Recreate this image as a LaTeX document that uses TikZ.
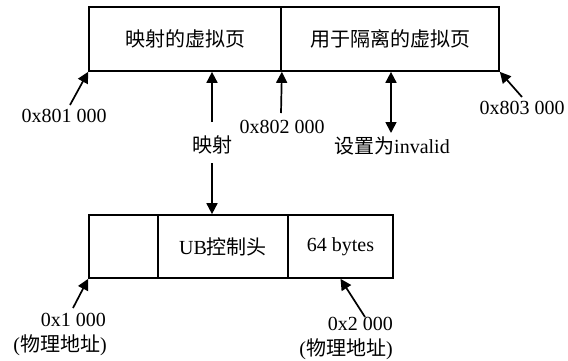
\documentclass[tikz,border=0pt]{standalone}
\usepackage{fontspec}
\setmainfont{Liberation Serif}
\newfontfamily\cjk{Noto Sans CJK SC}
\usetikzlibrary{arrows.meta}
\begin{document}
\begin{tikzpicture}[x=1pt,y=-1pt,
  every node/.style={font=\fontsize{20pt}{24pt}\selectfont},
  cell/.style={draw, line width=1.7pt, minimum width=#1, inner sep=0pt},
  txt/.style={inner sep=0pt},
  arr/.style={line width=1.7pt, -{Triangle[length=11pt,width=11pt]}},
  darr/.style={line width=1.7pt, {Triangle[length=11pt,width=11pt]}-{Triangle[length=11pt,width=11pt]}}]
\useasboundingbox (0,0) rectangle (568,360);
% top boxes
\node[cell=192pt, minimum height=64pt] (t1) at (185,39) {\cjk 映射的虚拟页};
\node[cell=218pt, minimum height=64pt] (t2) at (390,39) {\cjk 用于隔离的虚拟页};
% bottom boxes
\node[cell=69pt, minimum height=63pt] (b1) at (123.5,246.5) {};
\node[cell=130pt, minimum height=63pt] (b2) at (223,246.5) {UB{\cjk 控制头}};
\node[cell=105pt, minimum height=63pt] (b3) at (340.5,246.5) {64 bytes};
% labels
\node[txt] (l801) at (64,116) {0x801 000};
\node[txt] (lmap) at (212,145) {\cjk 映射};
\node[txt] (l802) at (282,127) {0x802 000};
\node[txt] (linv) at (392,146) {{\cjk 设置为}invalid};
\node[txt] (l803) at (522,108) {0x803 000};
\node[txt, anchor=east] (l1a) at (106,320) {0x1 000};
\node[txt, anchor=east] (l1b) at (107,345) {({\cjk 物理地址})};
\node[txt, anchor=east] (l2a) at (393,324) {0x2 000};
\node[txt, anchor=east] (l2b) at (393,349) {({\cjk 物理地址})};
% arrow start points
\coordinate (s801) at (70,105);
\coordinate (m1) at (212,122);
\coordinate (m2) at (212,163);
\coordinate (s802) at (281,113);
\coordinate (sinv) at (391,133);
\coordinate (s803) at (522,97);
\coordinate (s1) at (73,308);
\coordinate (s2) at (365,317);
% arrows
\draw[arr] (s801) -- (t1.south west);
\draw[arr] (m1) -- (m1 |- t1.south);
\draw[arr] (m2) -- (m2 |- b2.north);
\draw[arr] (s802) -- (t1.south east);
\draw[darr] (sinv) -- (sinv |- t2.south);
\draw[arr] (s803) -- (t2.south east);
\draw[arr] (s1) -- (b1.south west);
\draw[arr] (s2) -- (b3.south);
\end{tikzpicture}
\end{document}
